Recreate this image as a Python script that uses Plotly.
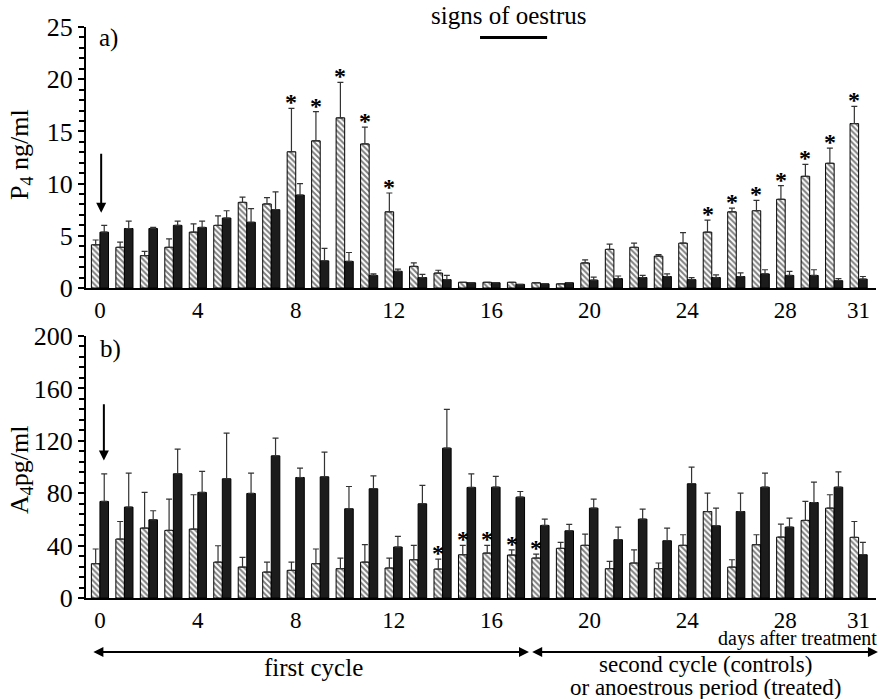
import plotly.graph_objects as go

# ---------------- data ----------------
days = list(range(32))
tick_days = [0, 4, 8, 12, 16, 20, 24, 28, 31]

# a) P4 ng/ml
p4_control = [4.14, 3.9, 3.1, 3.9, 5.35, 6.0, 8.2, 8.05, 13.05, 14.1, 16.3, 13.8, 7.3, 2.07, 1.43, 0.55,
              0.55, 0.55, 0.5, 0.4, 2.4, 3.7, 3.9, 3.05, 4.3, 5.35, 7.3, 7.4, 8.5, 10.7, 11.95, 15.75]
p4_control_sem = [0.46, 0.5, 0.4, 0.8, 0.8, 0.9, 0.5, 0.6, 4.15, 2.8, 3.4, 1.6, 1.8, 0.33, 0.27, 0,
                  0, 0, 0, 0, 0.3, 0.5, 0.4, 0.15, 1.0, 1.15, 0.35, 1.0, 1.3, 1.15, 1.45, 1.65]
p4_treated = [5.35, 5.7, 5.7, 6.0, 5.8, 6.7, 6.3, 7.5, 8.9, 2.6, 2.55, 1.2, 1.6, 1.0, 0.8, 0.5,
              0.5, 0.35, 0.4, 0.5, 0.75, 0.9, 1.0, 1.1, 0.8, 1.0, 1.1, 1.35, 1.2, 1.2, 0.7, 0.85]
p4_treated_sem = [0.65, 0.7, 0.1, 0.4, 0.6, 0.7, 1.3, 1.7, 1.1, 1.2, 0.85, 0.15, 0.2, 0.3, 0.4, 0,
                  0, 0, 0, 0, 0.3, 0.25, 0.2, 0.25, 0.2, 0.25, 0.35, 0.4, 0.4, 0.55, 0.2, 0.25]
p4_star_days = [8, 9, 10, 11, 12, 25, 26, 27, 28, 29, 30, 31]

# b) A4 pg/ml
a4_control = [26.2, 45, 53.4, 51.6, 52.6, 27.4, 23.6, 19.8, 21.1, 26.2, 22.4, 27.4, 22.9, 29.2, 22.1, 33,
              34.3, 32.8, 30.5, 37.9, 40.2, 22.4, 26.7, 22.4, 40.2, 66, 23.6, 40.7, 46.5, 59.2, 68.6, 46.3]
a4_control_sem = [11.2, 13.4, 27.2, 23.9, 26.2, 12.5, 7.4, 7.6, 6.3, 11.2, 8.1, 13.3, 7.6, 11, 7.6, 7.2,
                  5.9, 4, 3, 4.5, 8.6, 5.6, 10.1, 4.3, 8.1, 14, 5.6, 7.6, 9.9, 14.5, 10.2, 12.1]
a4_treated = [73.7, 69.4, 59.7, 94.8, 80.6, 91, 79.8, 108.5, 92, 92.5, 68.1, 83.4, 38.9, 71.9, 114.4, 84.4,
              84.6, 77, 55.4, 51.3, 68.6, 44.5, 60.2, 43.7, 87.2, 55.1, 66, 84.6, 54.1, 72.9, 84.6, 33]
a4_treated_sem = [21.1, 25.9, 6.9, 18.8, 16, 34.8, 15.5, 13.5, 7.1, 18.8, 17, 9.9, 8.1, 14, 29.6, 10.4,
                  8.2, 4.3, 4.8, 4.9, 6.9, 9.6, 7.7, 9.7, 12.7, 13.5, 14, 10.7, 6.9, 15.5, 11.7, 9.4]
a4_star_days = [14, 15, 16, 17, 18]

# ---------------- style ----------------
FONT = "Liberation Serif"
BARGAP = 0.3
HATCH = dict(color="white", line=dict(color="black", width=1),
             pattern=dict(shape="\\", fgcolor="black", bgcolor="white", size=4, solidity=0.5))
SOLID = dict(color="#1c1c1c", line=dict(color="black", width=1))


def err(sem):
    return dict(type="data", array=sem, arrayminus=[0] * len(sem), symmetric=False,
                color="#333333", thickness=1.2, width=3)


def txt(size, family=FONT):
    return dict(family=family, size=size, color="black")


fig = go.Figure()
fig.add_trace(go.Bar(x=days, y=p4_control, marker=HATCH, error_y=err(p4_control_sem),
                     xaxis="x", yaxis="y", showlegend=False))
fig.add_trace(go.Bar(x=days, y=p4_treated, marker=SOLID, error_y=err(p4_treated_sem),
                     xaxis="x", yaxis="y", showlegend=False))
fig.add_trace(go.Bar(x=days, y=a4_control, marker=HATCH, error_y=err(a4_control_sem),
                     xaxis="x2", yaxis="y2", showlegend=False))
fig.add_trace(go.Bar(x=days, y=a4_treated, marker=SOLID, error_y=err(a4_treated_sem),
                     xaxis="x2", yaxis="y2", showlegend=False))

off = (1 - BARGAP) / 4
ann = []
for d in p4_star_days:
    ann.append(dict(x=d - off, y=p4_control[d] + p4_control_sem[d], xref="x", yref="y", text="<b>*</b>",
                    showarrow=False, yanchor="bottom", yshift=-9, font=txt(24)))
for d in a4_star_days:
    ann.append(dict(x=d - off, y=a4_control[d] + a4_control_sem[d], xref="x2", yref="y2", text="<b>*</b>",
                    showarrow=False, yanchor="bottom", yshift=-9, font=txt(24)))

# treatment arrows
ann.append(dict(x=0.05, y=7.2, ax=0.05, ay=13.0, xref="x", yref="y", axref="x", ayref="y", text="",
                showarrow=True, arrowhead=2, arrowsize=1, arrowwidth=2, arrowcolor="black"))
ann.append(dict(x=0.16, y=105, ax=0.16, ay=149, xref="x2", yref="y2", axref="x2", ayref="y2", text="",
                showarrow=True, arrowhead=2, arrowsize=1, arrowwidth=2, arrowcolor="black"))

# panel labels
ann.append(dict(x=0.33, y=23.9, xref="x", yref="y", text="a)", showarrow=False, font=txt(25)))
ann.append(dict(x=0.45, y=190, xref="x2", yref="y2", text="b)", showarrow=False, font=txt(25)))

# y titles
ann.append(dict(x=21 / 884, y=1 - 155 / 699, xref="paper", yref="paper", text="P<sub>4</sub> ng/ml",
                xanchor="center", yanchor="middle", textangle=-90, showarrow=False, font=txt(26)))
ann.append(dict(x=21 / 884, y=1 - 470 / 699, xref="paper", yref="paper", text="A<sub>4</sub>pg/ml",
                xanchor="center", yanchor="middle", textangle=-90, showarrow=False, font=txt(26)))

# signs of oestrus
ann.append(dict(x=16.7, y=1 - 16 / 699, xref="x", yref="paper", text="signs of oestrus", showarrow=False,
                xanchor="center", yanchor="middle", font=txt(25)))

# bottom text
ann.append(dict(x=879 / 884, y=1 - 638 / 699, xref="paper", yref="paper", text="days after treatment",
                showarrow=False, xanchor="right", yanchor="middle", font=txt(20)))
ann.append(dict(x=17.53, y=1 - 652 / 699, ax=-0.33, ay=0, xref="x2", yref="paper",
                axref="x2", ayref="pixel", text="", showarrow=True, arrowhead=2, startarrowhead=2,
                arrowside="end+start", arrowsize=1, arrowwidth=2, arrowcolor="black"))
ann.append(dict(x=31.79, y=1 - 652 / 699, ax=17.6, ay=0, xref="x2", yref="paper",
                axref="x2", ayref="pixel", text="", showarrow=True, arrowhead=2, startarrowhead=2,
                arrowside="end+start", arrowsize=1, arrowwidth=2, arrowcolor="black"))
ann.append(dict(x=313 / 884, y=1 - 667 / 699, xref="paper", yref="paper", text="first cycle",
                showarrow=False, xanchor="center", yanchor="middle", font=txt(25)))
ann.append(dict(x=705 / 884, y=1 - 664 / 699, xref="paper", yref="paper", text="second cycle (controls)",
                showarrow=False, xanchor="center", yanchor="middle", font=txt(23)))
ann.append(dict(x=705 / 884, y=1 - 687 / 699, xref="paper", yref="paper",
                text="or anoestrous period (treated)",
                showarrow=False, xanchor="center", yanchor="middle", font=txt(23)))

shapes = [dict(type="line", xref="x", yref="y", x0=15.53, x1=18.27, y0=24.0, y1=24.0,
               line=dict(color="black", width=3))]

xcommon = dict(range=[-0.57, 31.71], tickvals=tick_days, ticktext=[str(t) for t in tick_days],
               showline=True, linewidth=2, linecolor="black", ticks="", showgrid=False, zeroline=False,
               automargin=False, tickfont=txt(23), domain=[86 / 884, 876 / 884])
ycommon = dict(showline=True, linewidth=2, linecolor="black", ticks="outside", ticklen=6, tickwidth=2,
               tickcolor="black", showgrid=False, zeroline=False, automargin=False,
               tickfont=txt(26))

fig.update_layout(
    width=884, height=699, margin=dict(l=0, r=0, t=0, b=0, autoexpand=False),
    paper_bgcolor="white", plot_bgcolor="white",
    barmode="group", bargap=BARGAP, bargroupgap=0,
    xaxis=dict(**xcommon, anchor="y"),
    xaxis2=dict(**xcommon, anchor="y2"),
    yaxis=dict(**ycommon, range=[0, 25], tickvals=[0, 5, 10, 15, 20, 25], anchor="x",
               domain=[1 - 288 / 699, 1 - 27 / 699],
               minor=dict(dtick=1, ticks="outside", ticklen=5, tickwidth=2, tickcolor="black")),
    yaxis2=dict(**ycommon, range=[0, 200], tickvals=[0, 40, 80, 120, 160, 200], anchor="x2",
                domain=[1 - 598 / 699, 1 - 336 / 699],
                minor=dict(dtick=8, ticks="outside", ticklen=5, tickwidth=2, tickcolor="black")),
    annotations=ann, shapes=shapes,
)

fig.write_html("out.html")
